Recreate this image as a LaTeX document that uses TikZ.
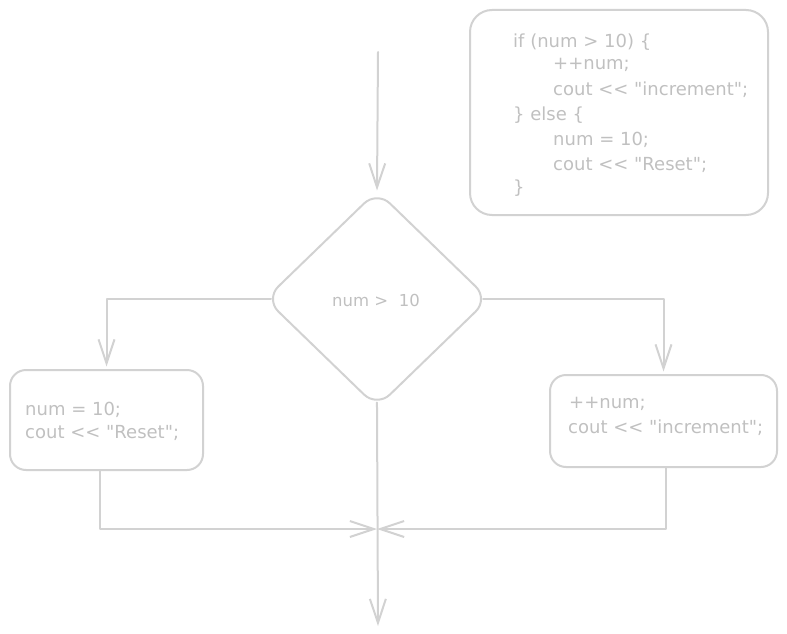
\documentclass[tikz,border=0pt]{standalone}
\usepackage{fontspec}
\setmainfont{DejaVu Sans}[Ligatures=TeXOff]
\usetikzlibrary{arrows.meta,shapes.geometric}
\definecolor{lnc}{RGB}{210,210,210}
\definecolor{txc}{RGB}{192,192,192}
\tikzset{
  ln/.style={draw=lnc,line width=2pt,line cap=round,line join=round},
  arr/.style={ln,-{Straight Barb[length=24pt,width=16pt,line width=2pt]},shorten >=2.5pt},
  boxn/.style={ln,rounded corners=16pt,inner sep=0pt},
  codet/.style={text=txc,font=\fontsize{18}{24.5}\selectfont,anchor=west,inner sep=0pt,align=left},
  smallt/.style={text=txc,font=\fontsize{16.5}{18}\selectfont,inner sep=0pt},
  dia/.style={ln,diamond,minimum width=224pt,minimum height=217pt,inner sep=0pt,rounded corners=18pt}
}
\begin{document}
\begin{tikzpicture}[x=1pt,y=-1pt]
\useasboundingbox (0,0) rectangle (787,634);
% code box
\node[boxn,minimum width=298pt,minimum height=205pt,rounded corners=22pt] (code) at (619,112.5) {};
\node[codet] (c1) at (513,42) {if (num > 10) \{};
\node[codet] (c2) at (553,65) {++num;};
\node[codet] (c3) at (553,90) {cout << "increment";};
\node[codet] (c4) at (513,115) {\} else \{};
\node[codet] (c5) at (553,140) {num = 10;};
\node[codet] (c6) at (553,165) {cout << "Reset";};
\node[codet] (c7) at (513,188) {\}};
% diamond
\node[dia] (d) at (377,299) {};
\node[smallt] (dt) at (376,300) {num >\ \ 10};
% left box
\node[boxn,minimum width=193pt,minimum height=100pt] (lb) at (106.5,420) {};
\node[codet] (lt1) at (25,410) {num = 10;};
\node[codet] (lt2) at (25,433) {cout << "Reset";};
% right box
\node[boxn,minimum width=227pt,minimum height=92pt] (rb) at (663.5,421) {};
\node[codet] (rt1) at (569,404) {++num;};
\node[codet] (rt2) at (568,428) {cout << "increment";};
% coordinates
\coordinate (s) at (378,52);
\coordinate (m) at (377,529);
\coordinate (e) at (378,626);
\coordinate (lbo) at (100,470);
\coordinate (rbo) at (666,467);
% connectors
\draw[arr,shorten >=-1pt] (s) -- (d.north);
\draw[arr,shorten <=-7pt] (d.west) -| (lb.north);
\draw[arr,shorten <=-7pt] (d.east) -| (rb.north);
\draw[arr,shorten >=0pt] (lbo) |- (m);
\draw[arr,shorten >=0pt] (rbo) |- (m);
\draw[arr,shorten >=0pt,shorten <=-6pt] (d.south) -- (e);
\end{tikzpicture}
\end{document}
